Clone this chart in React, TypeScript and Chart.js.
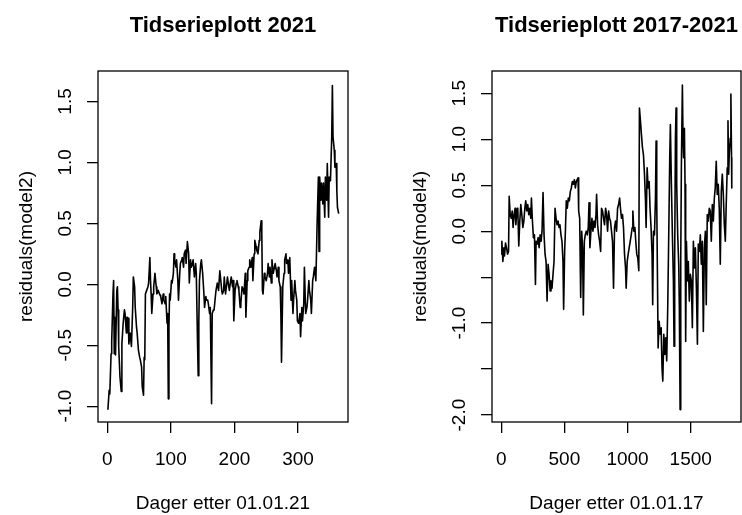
import React, { useEffect, useRef } from 'react';
import { Chart, registerables } from 'chart.js';

Chart.register(...registerables);

const FONT = "'Liberation Sans', Arial, Helvetica, sans-serif";

// ---- Panel 1: 2021 ----
const L_TITLE = 'Tidserieplott 2021';
const L_XLAB = 'Dager etter 01.01.21';
const L_YLAB = 'residuals(model2)';
const L_X_TICKS = [0, 100, 200, 300];
const L_Y_TICKS = [-1.0, -0.5, 0.0, 0.5, 1.0, 1.5];
const L_Y_LABELS = ['-1.0', '-0.5', '0.0', '0.5', '1.0', '1.5'];
const L_DAYS = [1,3,4,6,7,9,10,11,12,13,15,16,17,18,20,22,23,25,27,28,30,31,33,34,36,38,40,41,43,44,46,47,49,51,52,54,55,57,58,59,60,62,64,65,67,68,69,70,72,73,75,77,78,80,81,83,84,86,88,89,91,92,94,95,96,97,98,99,101,102,104,105,106,108,109,111,112,114,115,117,118,120,121,123,124,126,128,129,131,132,134,135,137,139,140,142,143,144,145,147,148,150,152,153,155,156,158,159,161,162,164,165,167,168,170,171,173,175,177,178,180,181,183,184,186,188,189,191,192,194,195,197,198,199,201,203,204,206,207,209,210,212,214,215,217,218,220,221,223,224,226,228,229,231,232,234,235,237,239,240,242,243,244,245,247,248,250,252,253,255,256,258,259,261,262,264,266,267,269,270,272,273,274,276,278,279,281,282,284,285,287,289,290,292,293,295,296,298,299,301,303,304,306,307,309,310,312,314,315,317,318,320,321,323,324,326,328,329,330,332,333,334,336,337,339,340,342,343,345,346,348,349,351,353,354,355,357,358,360,361,362,364];
const L_RES = [-1.03,-0.87,-0.90,-0.57,-0.47,-0.08,0.03,-0.57,-0.27,-0.58,-0.05,-0.02,-0.21,-0.51,-0.76,-0.88,-0.49,-0.32,-0.21,-0.24,-0.40,-0.27,-0.28,-0.49,-0.40,-0.51,-0.19,0.06,-0.02,-0.19,-0.35,-0.40,-0.54,-0.60,-0.62,-0.68,-0.84,-0.91,-0.60,-0.62,-0.08,-0.05,-0.02,0.01,0.22,0.03,-0.08,-0.24,-0.08,-0.02,0.09,-0.02,-0.08,-0.05,-0.05,-0.09,-0.10,-0.16,-0.08,-0.13,-0.16,-0.10,-0.32,-0.24,-0.94,-0.35,-0.08,-0.13,0.03,0.01,0.09,0.25,0.20,0.14,0.20,0.03,-0.13,0.09,0.17,0.20,0.22,0.14,0.25,0.28,0.17,0.35,0.25,0.01,0.20,0.14,0.17,0.20,0.06,0.17,0.09,-0.49,-0.75,-0.30,0.03,0.17,0.20,0.09,-0.08,-0.19,-0.10,-0.13,-0.13,-0.16,-0.24,-0.19,-0.98,-0.24,-0.21,-0.21,-0.10,-0.05,0.01,-0.05,0.11,0.06,-0.05,-0.08,-0.05,0.06,-0.08,0.01,0.06,-0.02,-0.05,0.03,0.06,-0.02,0.03,-0.30,-0.05,0.01,0.03,-0.02,-0.05,-0.19,-0.16,-0.02,-0.05,-0.08,0.09,-0.27,0.03,0.11,0.14,0.20,0.14,0.22,0.03,0.25,0.36,0.31,0.28,0.25,0.36,0.43,0.52,0.42,-0.05,-0.08,0.09,0.06,0.03,0.09,0.17,0.06,0.14,0.01,0.20,0.09,0.09,0.17,0.11,0.06,0.14,0.03,-0.02,-0.24,-0.64,-0.02,0.09,0.20,0.25,0.17,0.20,0.09,0.22,-0.13,0.03,-0.24,-0.13,0.03,-0.05,-0.13,-0.30,-0.32,-0.24,-0.43,-0.19,-0.30,-0.16,0.14,-0.24,-0.19,-0.13,0.03,-0.05,-0.13,-0.24,0.03,0.06,0.14,0.03,0.25,0.50,0.88,0.27,0.88,0.69,0.83,0.66,0.83,0.55,0.88,0.69,0.99,0.55,0.88,0.85,1.21,1.63,1.21,1.10,0.96,0.99,0.77,0.63,0.58];

// ---- Panel 2: 2017-2021 ----
const R_TITLE = 'Tidserieplott 2017-2021';
const R_XLAB = 'Dager etter 01.01.17';
const R_YLAB = 'residuals(model4)';
const R_X_TICKS = [0, 500, 1000, 1500];
const R_Y_TICKS = [-2.0, -1.5, -1.0, -0.5, 0.0, 0.5, 1.0, 1.5];
const R_Y_LABELS = ['-2.0', '', '-1.0', '', '0.0', '0.5', '1.0', '1.5'];
const R_DAYS = [0,5,13,21,26,34,42,50,58,63,71,79,87,94,102,110,116,123,131,139,147,155,163,171,179,187,194,202,210,218,226,234,239,247,255,263,271,276,284,292,300,308,316,323,331,339,347,355,363,371,379,387,394,402,410,418,426,434,442,450,458,465,473,481,489,494,502,508,515,523,531,539,547,555,563,571,579,587,594,608,613,621,629,637,644,650,658,665,673,681,689,695,702,710,718,726,734,742,750,755,763,771,779,787,794,802,810,818,826,834,842,850,857,865,873,881,889,897,905,913,921,929,937,944,952,960,968,976,984,989,997,1005,1013,1021,1029,1037,1042,1050,1058,1065,1073,1081,1089,1094,1102,1110,1118,1126,1134,1142,1147,1155,1163,1171,1178,1186,1194,1199,1205,1213,1221,1226,1231,1237,1242,1250,1258,1266,1273,1279,1287,1295,1302,1310,1318,1326,1334,1339,1347,1355,1363,1368,1373,1379,1384,1389,1397,1405,1410,1416,1421,1426,1434,1439,1444,1450,1455,1460,1466,1474,1481,1489,1497,1505,1513,1521,1529,1537,1545,1553,1560,1568,1576,1584,1592,1600,1608,1616,1623,1631,1639,1647,1655,1663,1671,1679,1687,1694,1702,1710,1718,1726,1734,1742,1750,1758,1766,1774,1781,1789,1795,1800,1805,1813,1818,1823,1825];
const R_RES = [-0.25,-0.11,-0.33,-0.18,-0.27,-0.13,-0.18,-0.25,-0.22,0.38,0.18,0.14,0.22,0.04,0.18,0.25,0.07,0.22,0.25,-0.16,0.11,0.29,0.18,0.04,0.11,0.25,0.33,0.22,0.29,0.18,0.25,0.14,0.36,0.11,-0.07,-0.04,-0.58,-0.11,-0.14,-0.07,-0.18,-0.04,-0.11,0.00,0.42,-0.04,-0.25,-0.33,-0.76,-0.36,-0.47,-0.65,-0.54,-0.62,-0.47,-0.33,0.25,0.14,0.07,0.11,0.04,0.07,-0.04,-0.11,-0.33,-0.85,-0.22,0.00,0.33,0.25,0.36,0.33,0.43,0.47,0.54,0.51,0.56,0.47,0.54,0.58,0.22,0.14,-0.72,0.00,-0.18,-0.91,-0.11,-0.04,0.00,-0.04,0.04,0.31,-0.18,0.00,0.14,0.00,0.11,0.04,0.18,0.40,0.07,-0.04,-0.11,-0.22,0.25,0.22,0.14,0.07,0.25,0.18,0.00,0.22,0.14,0.11,0.00,-0.11,-0.62,0.04,0.11,0.00,0.25,0.29,0.36,0.25,0.14,0.18,0.04,-0.25,-0.40,-0.62,-0.33,-0.25,-0.18,-0.11,-0.04,0.04,0.22,0.00,0.04,-0.11,-0.25,-0.29,-0.43,1.34,1.20,1.05,0.91,0.83,0.62,0.33,0.04,0.69,0.47,0.54,0.25,0.04,-0.25,-0.80,0.00,-0.04,0.36,0.98,0.33,-0.54,-1.27,-0.98,-1.12,-1.05,-1.49,-1.63,-1.12,-1.34,-1.16,-1.41,-0.83,-0.04,0.80,1.16,0.51,-0.04,-0.54,-1.25,-0.33,1.01,1.34,0.51,-0.04,-0.36,-0.83,-1.94,-0.33,0.69,1.59,1.01,0.80,1.12,0.51,-1.20,-0.11,-0.54,-0.33,-0.76,-0.47,-0.54,-1.05,-0.11,-0.40,-0.18,-0.62,-1.23,-0.14,-0.22,-0.04,-0.36,-0.11,-1.09,-0.18,0.00,-0.80,0.18,0.11,0.25,0.22,-0.11,0.29,0.11,0.36,0.47,0.76,0.40,0.51,0.25,-0.36,0.43,0.62,0.40,0.07,-0.11,0.29,0.69,1.20,0.62,0.83,1.01,1.49,0.80,0.47];

type Panel = {
  days: number[];
  res: number[];
  title: string;
  xlab: string;
  ylab: string;
  xTicks: number[];
  yTicks: number[];
  yLabels: string[];
  xMin: number;
  xMax: number;
  yMin: number;
  yMax: number;
  yAxisWidth: number;
  rightPad: number;
  yTitlePad: number;
};

const PANELS: Panel[] = [
  {
    days: L_DAYS, res: L_RES, title: L_TITLE, xlab: L_XLAB, ylab: L_YLAB,
    xTicks: L_X_TICKS, yTicks: L_Y_TICKS, yLabels: L_Y_LABELS,
    xMin: -14.56, xMax: 378.56, yMin: -1.13, yMax: 1.75,
    yAxisWidth: 98, rightPad: 23, yTitlePad: 15.5,
  },
  {
    days: R_DAYS, res: R_RES, title: R_TITLE, xlab: R_XLAB, ylab: R_YLAB,
    xTicks: R_X_TICKS, yTicks: R_Y_TICKS, yLabels: R_Y_LABELS,
    xMin: -73, xMax: 1898, yMin: -2.075, yMax: 1.742,
    yAxisWidth: 121, rightPad: 1, yTitlePad: 38.5,
  },
];

const boxPlugin = {
  id: 'rbox',
  afterDraw(chart: any) {
    const { ctx, chartArea } = chart;
    const title = chart.options.plugins.rbox?.title ?? '';
    ctx.save();
    ctx.strokeStyle = '#000';
    ctx.lineWidth = 1.3;
    ctx.strokeRect(chartArea.left, chartArea.top, chartArea.right - chartArea.left, chartArea.bottom - chartArea.top);
    ctx.fillStyle = '#000';
    ctx.font = `bold 22px ${FONT}`;
    ctx.textAlign = 'center';
    ctx.textBaseline = 'alphabetic';
    ctx.fillText(title, (chartArea.left + chartArea.right) / 2, 32);
    ctx.restore();
  },
};

function PanelChart({ p, left }: { p: Panel; left: number }) {
  const ref = useRef<HTMLCanvasElement | null>(null);
  useEffect(() => {
    if (!ref.current) return;
    const points = p.days.map((d, i) => ({ x: d, y: p.res[i] }));
    const chart = new Chart(ref.current, {
      type: 'line',
      data: {
        datasets: [
          {
            data: points,
            borderColor: '#000',
            borderWidth: 1.6,
            pointRadius: 0,
            tension: 0,
            borderJoinStyle: 'round',
            fill: false,
          },
        ],
      },
      options: {
        animation: false,
        responsive: false,
        devicePixelRatio: 1,
        layout: { padding: { left: 0, top: 71, right: p.rightPad, bottom: 0 } },
        plugins: {
          legend: { display: false },
          tooltip: { enabled: false },
          title: { display: false },
          rbox: { title: p.title },
        },
        scales: {
          x: {
            type: 'linear',
            min: p.xMin,
            max: p.xMax,
            afterFit: (s: any) => { s.height = 93; },
            afterBuildTicks: (s: any) => { s.ticks = p.xTicks.map((v) => ({ value: v })); },
            border: { display: false },
            grid: { drawOnChartArea: false, drawTicks: true, tickLength: 11, color: '#000', lineWidth: 1.3 },
            ticks: {
              autoSkip: false,
              maxRotation: 0,
              minRotation: 0,
              padding: 15,
              color: '#000',
              font: { family: FONT, size: 19 },
              callback: (v: any) => String(v),
            },
            title: {
              display: true,
              text: p.xlab,
              color: '#000',
              font: { family: FONT, size: 19, lineHeight: 1.2 },
              padding: { top: 0, bottom: 0 },
            },
          },
          y: {
            type: 'linear',
            min: p.yMin,
            max: p.yMax,
            afterFit: (s: any) => { s.width = p.yAxisWidth; },
            afterBuildTicks: (s: any) => { s.ticks = p.yTicks.map((v) => ({ value: v })); },
            border: { display: false },
            grid: { drawOnChartArea: false, drawTicks: true, tickLength: 11, color: '#000', lineWidth: 1.3 },
            ticks: {
              autoSkip: false,
              minRotation: 90,
              maxRotation: 90,
              crossAlign: 'center',
              padding: 5,
              color: '#000',
              font: { family: FONT, size: 19 },
              callback: (_v: any, i: number) => p.yLabels[i] ?? '',
            },
            title: {
              display: true,
              text: p.ylab,
              color: '#000',
              font: { family: FONT, size: 19, lineHeight: 1.2 },
              padding: { top: p.yTitlePad, bottom: 0 },
            },
          },
        },
      },
      plugins: [boxPlugin],
    } as any);
    return () => chart.destroy();
  }, [p]);
  return (
    <canvas
      ref={ref}
      width={371}
      height={515}
      style={{ position: 'absolute', left, top: 0, width: 371, height: 515 }}
    />
  );
}

export default function App() {
  return (
    <div style={{ position: 'absolute', left: 0, top: 0, width: 742, height: 515, background: '#fff' }}>
      <PanelChart p={PANELS[0]} left={0} />
      <PanelChart p={PANELS[1]} left={371} />
    </div>
  );
}
